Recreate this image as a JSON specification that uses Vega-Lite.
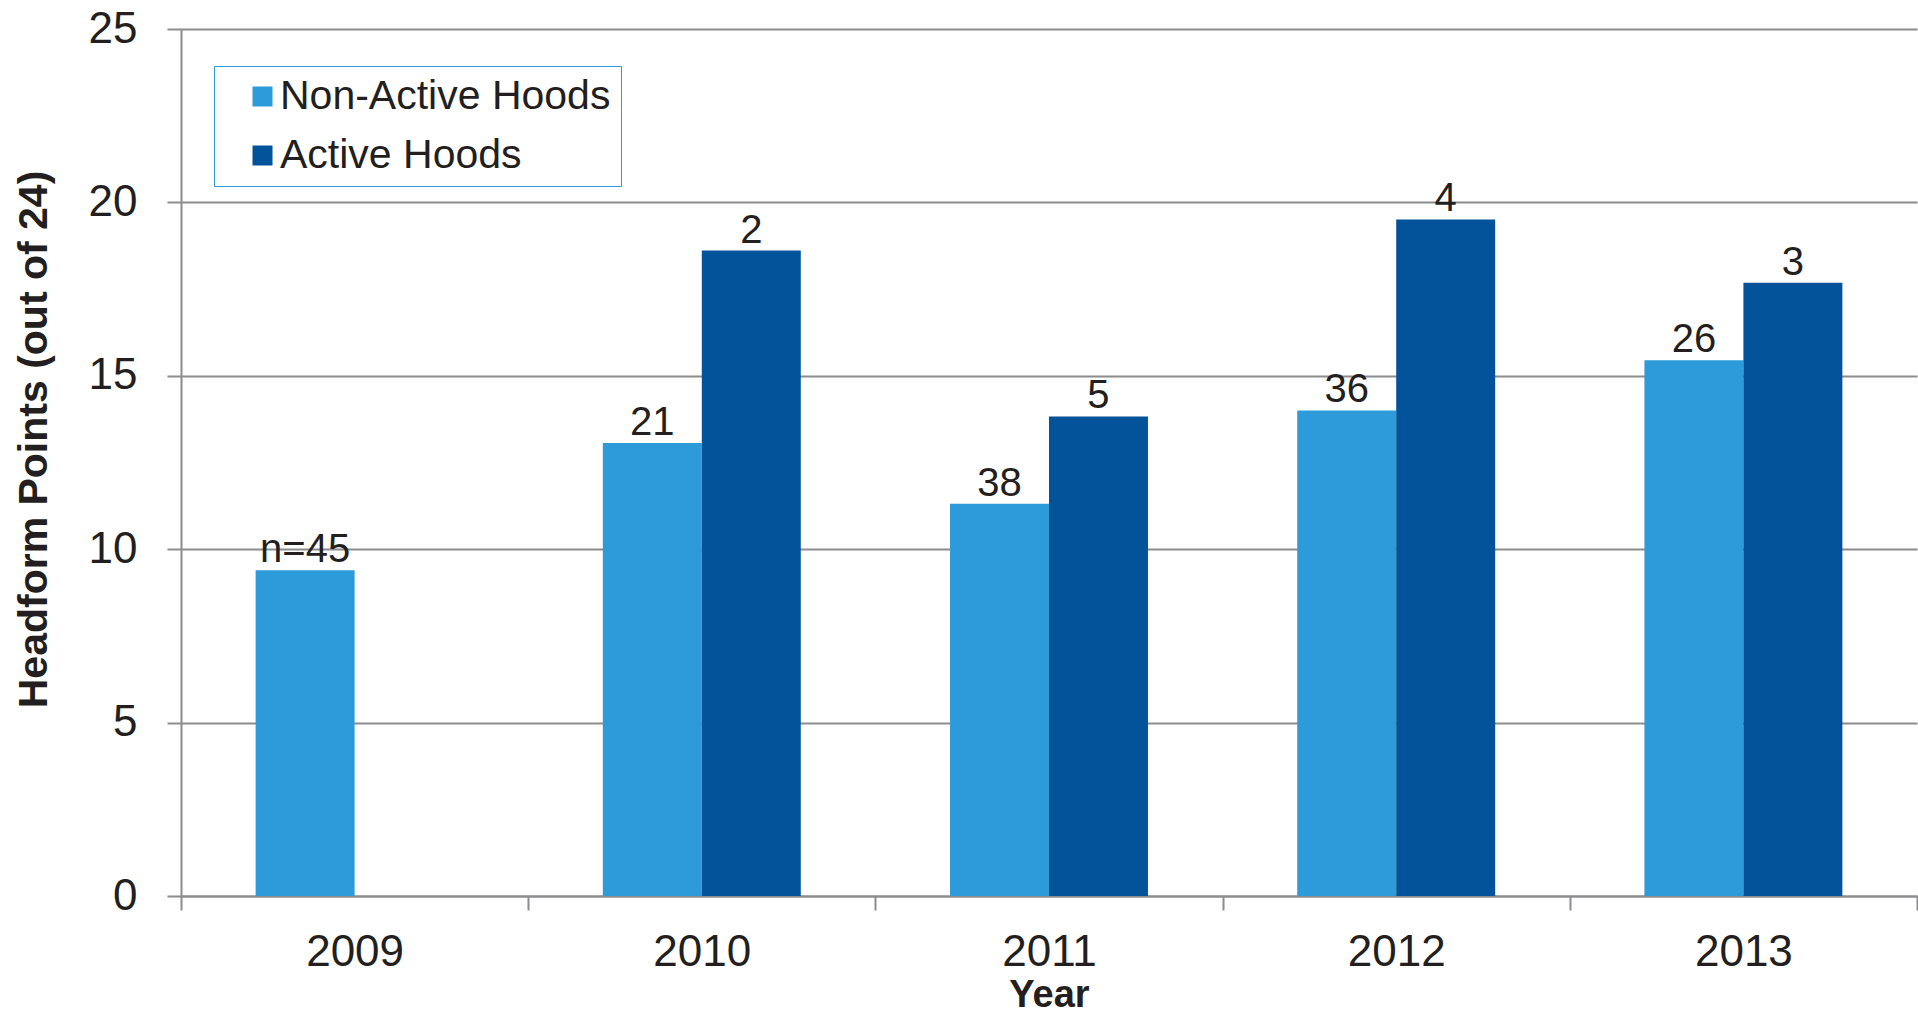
{
  "$schema": "https://vega.github.io/schema/vega-lite/v6.json",
  "width": 1736,
  "height": 867,
  "autosize": {"type": "none"},
  "padding": {"left": 181, "top": 29, "right": 1, "bottom": 118},
  "background": "white",
  "config": {
    "view": {"stroke": null},
    "font": "Liberation Sans",
    "axis": {
      "labelFont": "Liberation Sans",
      "titleFont": "Liberation Sans",
      "labelColor": "#231f20",
      "titleColor": "#231f20",
      "domainColor": "#8c8c8e",
      "domainWidth": 2,
      "tickColor": "#8c8c8e",
      "tickWidth": 2,
      "tickSize": 14,
      "gridColor": "#8c8c8e",
      "gridWidth": 2,
      "gridOpacity": 1
    }
  },
  "data": {
    "values": [
      {"year": "2009", "group": "Non-Active Hoods", "value": 9.39, "n": "n=45"},
      {"year": "2010", "group": "Non-Active Hoods", "value": 13.06, "n": "21"},
      {"year": "2010", "group": "Active Hoods", "value": 18.61, "n": "2"},
      {"year": "2011", "group": "Non-Active Hoods", "value": 11.31, "n": "38"},
      {"year": "2011", "group": "Active Hoods", "value": 13.83, "n": "5"},
      {"year": "2012", "group": "Non-Active Hoods", "value": 14.0, "n": "36"},
      {"year": "2012", "group": "Active Hoods", "value": 19.51, "n": "4"},
      {"year": "2013", "group": "Non-Active Hoods", "value": 15.45, "n": "26"},
      {"year": "2013", "group": "Active Hoods", "value": 17.68, "n": "3"}
    ]
  },
  "encoding": {
    "x": {
      "field": "year",
      "type": "nominal",
      "scale": {"paddingInner": 0, "paddingOuter": 0},
      "axis": {
        "labelAngle": 0,
        "tickBand": "extent",
        "labelFontSize": 44,
        "labelPadding": 20,
        "title": "Year",
        "titleFontSize": 38,
        "titleFontWeight": "bold",
        "titlePadding": 2,
        "grid": false
      }
    },
    "xOffset": {
      "field": "group",
      "type": "nominal",
      "scale": {"domain": ["Non-Active Hoods", "Active Hoods"], "paddingInner": 0, "paddingOuter": 0.754}
    },
    "y": {
      "field": "value",
      "type": "quantitative",
      "scale": {"domain": [0, 25], "nice": false},
      "axis": {
        "values": [0, 5, 10, 15, 20, 25],
        "grid": true,
        "labelFontSize": 44,
        "labelPadding": 30,
        "title": "Headform Points (out of 24)",
        "titleFontSize": 41,
        "titleFontWeight": "bold",
        "titleX": -126,
        "titleY": 410
      }
    }
  },
  "layer": [
    {
      "mark": {"type": "bar"},
      "encoding": {
        "color": {
          "field": "group",
          "type": "nominal",
          "scale": {"domain": ["Non-Active Hoods", "Active Hoods"], "range": ["#2d9bd9", "#02539a"]},
          "legend": {
            "title": null,
            "orient": "none",
            "legendX": 33,
            "legendY": 37,
            "strokeColor": "#2d9bd9",
            "fillColor": "white",
            "padding": 10,
            "symbolType": "square",
            "symbolSize": 400,
            "symbolStrokeWidth": 0,
            "symbolOffset": 18,
            "labelOffset": -3,
            "labelFontSize": 41,
            "labelFont": "Liberation Sans",
            "labelColor": "#231f20",
            "labelLimit": 600,
            "rowPadding": 17
          }
        }
      }
    },
    {
      "mark": {"type": "text", "baseline": "alphabetic", "dy": -8, "fontSize": 40, "color": "#231f20", "font": "Liberation Sans"},
      "encoding": {"text": {"field": "n", "type": "nominal"}}
    }
  ]
}
